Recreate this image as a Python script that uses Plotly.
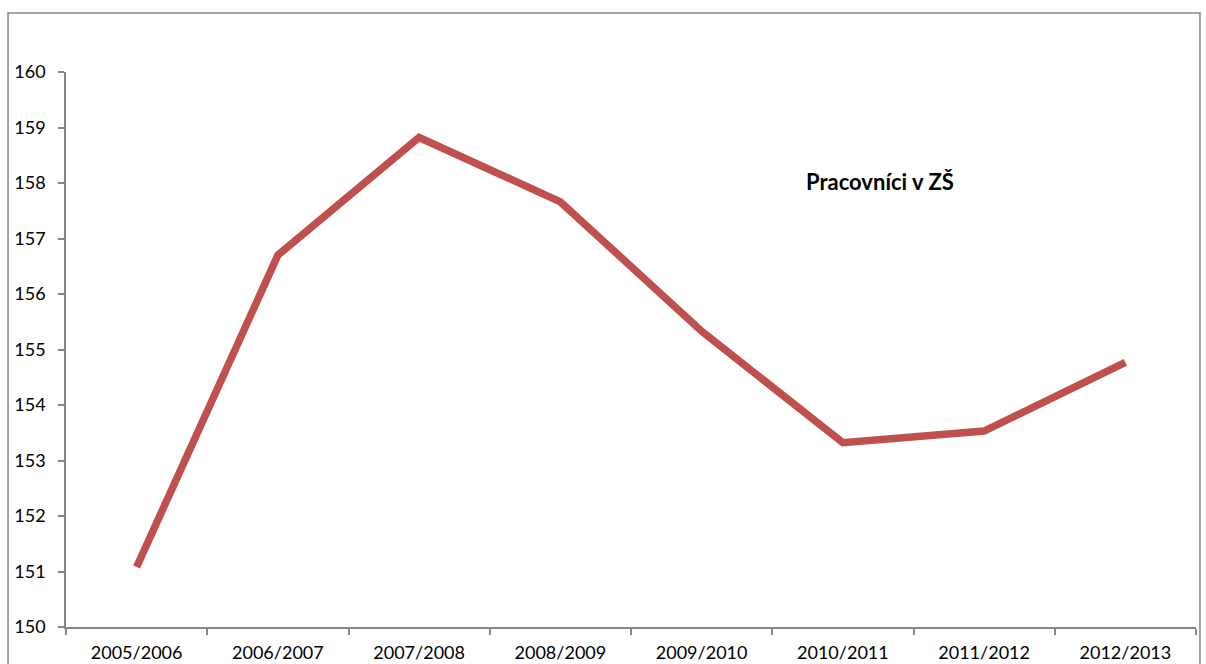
import plotly.graph_objects as go

categories = ["2005/2006", "2006/2007", "2007/2008", "2008/2009",
              "2009/2010", "2010/2011", "2011/2012", "2012/2013"]
values = [151.08, 156.70, 158.82, 157.66, 155.33, 153.32, 153.53, 154.77]
y_ticks = [150, 151, 152, 153, 154, 155, 156, 157, 158, 159, 160]
title_text = "Pracovníci v ZŠ"

axis_color = "#868686"
font_family = "Lato, 'Open Sans', sans-serif"

fig = go.Figure()
fig.add_trace(go.Scatter(
    x=categories, y=values, mode="lines",
    line=dict(color="#C0504D", width=7.5),
    hoverinfo="x+y", showlegend=False,
))

fig.update_layout(
    width=1206, height=664,
    margin=dict(l=66, r=10, t=72, b=37),
    paper_bgcolor="white", plot_bgcolor="white",
    font=dict(family=font_family, size=18, color="black"),
    xaxis=dict(
        type="category", range=[-0.5, 7.5],
        showline=True, linecolor=axis_color, linewidth=1.5,
        ticks="outside", tickson="boundaries", ticklen=6,
        tickcolor=axis_color, tickwidth=1.5,
        showgrid=False, zeroline=False,
        ticklabelstandoff=9, automargin=False,
        tickfont=dict(size=18),
    ),
    yaxis=dict(
        range=[150, 160], tickvals=y_ticks,
        showline=True, linecolor=axis_color, linewidth=1.5,
        ticks="outside", ticklen=6, tickcolor=axis_color, tickwidth=1.5,
        showgrid=False, zeroline=False,
        ticklabelstandoff=9, automargin=False,
        tickfont=dict(size=18),
    ),
    annotations=[dict(
        text="<b>" + title_text + "</b>", x=0.720, y=0.8036,
        xref="paper", yref="paper", showarrow=False,
        xanchor="center", yanchor="middle",
        font=dict(size=22, family=font_family, color="black"),
    )],
    shapes=[dict(
        type="rect", xref="paper", yref="paper",
        x0=-0.0513, x1=1.0035, y0=-0.2, y1=1.1063,
        line=dict(color=axis_color, width=1.5), layer="below",
    )],
)

fig.write_html("out.html", config={"displayModeBar": False},
               post_script="document.body.style.margin='0';")
